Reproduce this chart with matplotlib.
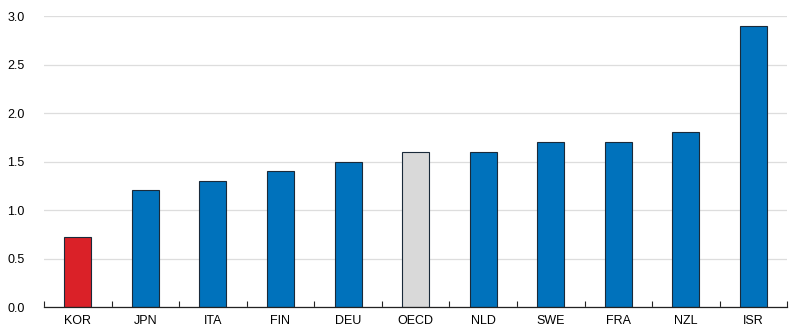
import matplotlib
matplotlib.use("Agg")
import matplotlib.pyplot as plt
import numpy as np

categories = ["KOR", "JPN", "ITA", "FIN", "DEU", "OECD", "NLD", "SWE", "FRA", "NZL", "ISR"]
values = [0.72, 1.21, 1.30, 1.40, 1.50, 1.60, 1.60, 1.70, 1.70, 1.80, 2.90]
colors = ["#DA2128"] + ["#0072BC"] * 4 + ["#D9D9D9"] + ["#0072BC"] * 5
yticks = [0.0, 0.5, 1.0, 1.5, 2.0, 2.5, 3.0]

plt.rcParams['font.family'] = ['Liberation Sans', 'DejaVu Sans']

fig = plt.figure(figsize=(8, 3.31), dpi=100)
ax = fig.add_axes([0.055, 0.0725, 0.929, 0.879])

x = np.arange(len(categories))
ax.bar(x, values, width=0.4, color=colors, edgecolor="#1a2a3a", linewidth=0.8, zorder=3)

ax.set_xlim(-0.5, len(categories) - 0.5)
ax.set_ylim(0, 3.0)
ax.set_yticks(yticks)
ax.set_yticklabels([f"{v:.1f}" for v in yticks], fontsize=9)
ax.set_xticks(x)
ax.set_xticklabels(categories, fontsize=9)
ax.set_xticks(np.arange(-0.5, len(categories)), minor=True)
ax.tick_params(axis='x', which='major', length=0, pad=6)
ax.tick_params(axis='x', which='minor', direction='in', length=4, width=0.8, color="#222222")
ax.tick_params(axis='y', length=0, pad=14)
ax.grid(axis='y', color="#DDDDDD", linewidth=0.9, zorder=0)
for s in ["left", "right", "top"]:
    ax.spines[s].set_visible(False)
ax.spines["bottom"].set_color("#222222")
ax.spines["bottom"].set_linewidth(0.9)
ax.spines["bottom"].set_zorder(4)

fig.savefig("out.png", dpi=100)
